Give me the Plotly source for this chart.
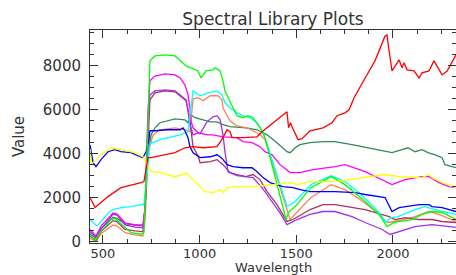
import plotly.graph_objects as go

# ---- data (wavelength, value) ----
red_wl = [433, 459, 526, 593, 697, 712, 733, 749, 873, 924, 966, 1018, 1090, 1121, 1142, 1157, 1168, 1224, 1297, 1323, 1400, 1452, 1460, 1470, 1478, 1509, 1530, 1571, 1638, 1685, 1711, 1752, 1773, 1799, 1856, 1907, 1959, 1969, 1980, 1995, 2032, 2047, 2057, 2073, 2109, 2135, 2150, 2186, 2212, 2254, 2280, 2326]
red_val = [2000, 1545, 2045, 2450, 2680, 2730, 3820, 3820, 4045, 4270, 4320, 4270, 4320, 4730, 5090, 5000, 4730, 4730, 4770, 5000, 5545, 5910, 5180, 5410, 5230, 4640, 4680, 5045, 5180, 5410, 5730, 5860, 6000, 6550, 7450, 8230, 9360, 9410, 8680, 7770, 8270, 7910, 8140, 7820, 7770, 7450, 7680, 7770, 8230, 7590, 7770, 8500]

green_wl = [433, 459, 490, 542, 562, 593, 645, 697, 712, 728, 743, 769, 821, 873, 904, 930, 955, 992, 1007, 1033, 1069, 1080, 1106, 1121, 1131, 1157, 1193, 1224, 1250, 1276, 1302, 1323, 1338, 1447, 1462, 1494, 1576, 1680, 1752, 1856, 1928, 1969, 2006, 2032, 2099, 2150, 2202, 2254, 2326]
green_val = [300, 50, 450, 1000, 1050, 800, 400, 330, 400, 4000, 8230, 8455, 8500, 8455, 8230, 8000, 7910, 7770, 7450, 7770, 7820, 7910, 7770, 7320, 6860, 6410, 5730, 5640, 5730, 5640, 5320, 5045, 4730, 1000, 1350, 1590, 2450, 2955, 2590, 1820, 1230, 680, 865, 910, 1000, 1230, 1365, 1320, 1000]

magenta_wl = [433, 464, 490, 552, 573, 614, 666, 707, 718, 733, 743, 769, 821, 873, 899, 924, 940, 950, 955, 966, 992, 1043, 1069, 1121, 1193, 1224, 1271, 1312, 1338, 1375, 1416, 1468, 1519, 1587, 1700, 1752, 1856, 1980, 1995, 2063, 2150, 2186, 2238, 2290, 2326]
magenta_val = [550, 250, 700, 1300, 1250, 850, 750, 700, 1600, 6000, 7320, 7540, 7640, 7590, 7450, 7140, 6680, 6090, 5500, 5180, 4950, 4860, 4860, 4770, 4730, 4550, 4500, 4320, 4090, 3950, 3500, 3140, 3140, 3270, 3410, 3500, 3180, 2680, 2590, 2820, 2955, 2955, 2680, 2500, 2450]

purple_wl = [433, 464, 490, 552, 573, 614, 666, 707, 718, 733, 743, 769, 821, 873, 904, 930, 940, 950, 966, 992, 1002, 1038, 1069, 1090, 1106, 1121, 1131, 1142, 1147, 1193, 1276, 1323, 1375, 1421, 1452, 1504, 1571, 1638, 1700, 1788, 1856, 1944, 1985, 2032, 2114, 2202, 2326]
purple_val = [450, 200, 550, 1250, 1200, 750, 650, 620, 1500, 5500, 6680, 6860, 6910, 6860, 6640, 6450, 6000, 5320, 4860, 4950, 4900, 5450, 5680, 5730, 5545, 4860, 4090, 3500, 3180, 3000, 2910, 2450, 1820, 1230, 770, 1000, 1230, 1365, 1365, 1135, 865, 545, 320, 455, 680, 770, 640]

maroon_wl = [433, 464, 490, 552, 573, 614, 666, 707, 718, 733, 743, 769, 821, 873, 904, 930, 950, 966, 992, 1002, 1054, 1090, 1121, 1157, 1193, 1240, 1276, 1312, 1349, 1400, 1452, 1483, 1571, 1638, 1700, 1773, 1856, 1980, 2011, 2063, 2135, 2202, 2254, 2326]
maroon_val = [250, 50, 450, 950, 900, 550, 480, 450, 1500, 5000, 6450, 6770, 6860, 6820, 6590, 6410, 5500, 4300, 3910, 3590, 3640, 3730, 3500, 3140, 3050, 2955, 3050, 2820, 2270, 1680, 910, 1000, 1455, 1680, 1680, 1590, 1455, 1135, 1000, 1090, 1000, 1000, 910, 865]

cyan_wl = [433, 469, 536, 552, 593, 645, 697, 712, 728, 743, 795, 899, 940, 955, 966, 1002, 1043, 1090, 1116, 1131, 1157, 1193, 1224, 1261, 1297, 1323, 1338, 1452, 1494, 1576, 1665, 1680, 1752, 1835, 1923, 1964, 1990, 2026, 2114, 2166, 2218, 2326]
cyan_val = [1000, 700, 1365, 1450, 1545, 1590, 1680, 1700, 3000, 4450, 4640, 4860, 5000, 6000, 6860, 6640, 6770, 6860, 6680, 6320, 6090, 5860, 5730, 5640, 5410, 5045, 4730, 1590, 1820, 2590, 2955, 3000, 2730, 2140, 1365, 865, 1090, 1135, 1455, 1590, 1455, 1230]

salmon_wl = [433, 464, 490, 552, 573, 614, 666, 707, 718, 733, 759, 795, 873, 924, 950, 966, 992, 1018, 1054, 1095, 1116, 1121, 1142, 1157, 1193, 1245, 1276, 1312, 1338, 1468, 1576, 1680, 1752, 1830, 1918, 1969, 2006, 2099, 2186, 2238, 2326]
salmon_val = [150, 0, 350, 750, 700, 400, 300, 250, 1000, 4000, 4860, 5090, 5180, 5090, 5000, 6500, 6550, 6410, 6640, 6640, 6450, 6090, 5730, 5500, 5270, 5180, 5045, 4860, 4640, 1000, 2000, 2590, 2360, 1910, 1320, 865, 910, 1090, 1365, 1230, 910]

seagreen_wl = [433, 464, 490, 552, 573, 614, 666, 707, 718, 733, 749, 769, 795, 873, 924, 940, 955, 976, 1018, 1054, 1090, 1121, 1157, 1240, 1297, 1349, 1400, 1452, 1468, 1494, 1519, 1571, 1638, 1700, 1788, 1870, 1959, 1995, 2047, 2078, 2114, 2150, 2181, 2218, 2254, 2269, 2326]
seagreen_val = [350, 150, 600, 1100, 1050, 800, 750, 750, 1500, 4000, 4860, 5180, 5410, 5590, 5545, 5410, 5770, 5640, 5545, 5450, 5450, 5320, 5230, 5180, 5090, 4860, 4500, 4090, 4045, 4270, 4410, 4500, 4550, 4550, 4410, 4270, 4090, 4045, 4180, 4270, 4090, 4180, 4045, 3950, 3820, 3500, 3360]

blue_wl = [433, 449, 464, 490, 526, 562, 593, 645, 692, 707, 723, 738, 743, 769, 834, 899, 914, 924, 940, 950, 966, 986, 1002, 1054, 1090, 1106, 1121, 1142, 1173, 1224, 1271, 1297, 1328, 1364, 1400, 1431, 1483, 1519, 1571, 1623, 1700, 1804, 1856, 1959, 1980, 1995, 2032, 2063, 2135, 2186, 2202, 2254, 2326]
blue_val = [4400, 3590, 3410, 3730, 4090, 4180, 4090, 4045, 3860, 3820, 4090, 4640, 5045, 5045, 5090, 5090, 5180, 5045, 4730, 4320, 4045, 3910, 3820, 3860, 3950, 3860, 3730, 3500, 3410, 3360, 3360, 3180, 2910, 2680, 2590, 2500, 2450, 2360, 2270, 2270, 2270, 2230, 2140, 2000, 1590, 1365, 1545, 1590, 1680, 1680, 1590, 1545, 1365]

yellow_wl = [433, 440, 459, 490, 542, 593, 666, 707, 723, 749, 800, 873, 914, 930, 955, 992, 1028, 1069, 1106, 1121, 1142, 1193, 1276, 1380, 1468, 1504, 1571, 1700, 1856, 1959, 2032, 2150, 2186, 2202, 2254, 2326]
yellow_val = [4200, 3550, 3640, 3950, 4270, 4180, 4045, 3860, 3590, 3180, 3140, 2950, 3050, 3140, 2910, 2590, 2270, 2230, 2360, 2230, 2450, 2500, 2500, 2590, 2680, 2590, 2730, 2730, 2910, 3050, 2950, 2910, 3050, 2910, 2680, 2450]

series = [
    ("seagreen", seagreen_wl, seagreen_val, "#2e8b57"),
    ("salmon", salmon_wl, salmon_val, "#ff7f5a"),
    ("maroon", maroon_wl, maroon_val, "#b03060"),
    ("purple", purple_wl, purple_val, "#a030f0"),
    ("magenta", magenta_wl, magenta_val, "#ff00ff"),
    ("cyan", cyan_wl, cyan_val, "#00ffff"),
    ("blue", blue_wl, blue_val, "#0000ff"),
    ("green", green_wl, green_val, "#00ff00"),
    ("yellow", yellow_wl, yellow_val, "#ffff00"),
    ("red", red_wl, red_val, "#ff0000"),
]

x_ticks = [500, 1000, 1500, 2000]
y_ticks = [0, 2000, 4000, 6000, 8000]

fig = go.Figure()
for name, wl, val, col in series:
    fig.add_trace(go.Scatter(x=wl, y=val, mode="lines", name=name,
                             line=dict(color=col, width=1.3), showlegend=False))

axis_col = "#333333"
txt_col = "#333333"
font_fam = "DejaVu Sans"
fig.update_layout(
    width=456, height=275,
    margin=dict(l=90, r=0, t=30, b=32),
    paper_bgcolor="white", plot_bgcolor="white",
    font=dict(family=font_fam, size=15, color=txt_col),
    title=dict(text="Spectral Library Plots", x=0.5, xref="paper", y=0.93,
               yanchor="middle", xanchor="center",
               font=dict(family=font_fam, size=17, color=txt_col)),
)
fig.update_xaxes(
    range=[433, 2326], tickvals=x_ticks, ticktext=[str(v) for v in x_ticks],
    showgrid=False, zeroline=False, showline=True, linecolor=axis_col, linewidth=1,
    mirror="ticks", ticks="inside", ticklen=8, tickcolor=axis_col, tickwidth=1,
    minor=dict(dtick=125, tick0=500, ticks="inside", ticklen=4, tickcolor=axis_col, showgrid=False),
    tickfont=dict(size=13), ticklabelstandoff=-2, automargin=False,
)
fig.update_yaxes(
    range=[-70, 9636], tickvals=y_ticks, ticktext=[str(v) for v in y_ticks],
    showgrid=False, zeroline=False, showline=True, linecolor=axis_col, linewidth=1,
    mirror="ticks", ticks="inside", ticklen=8, tickcolor=axis_col, tickwidth=1,
    minor=dict(dtick=500, tick0=0, ticks="inside", ticklen=4, tickcolor=axis_col, showgrid=False),
    title=dict(text="Value", standoff=14, font=dict(size=15)),
    tickfont=dict(size=15), ticklabelstandoff=5, automargin=False,
)
# x-axis title placed just under the tick labels (as in the reference)
fig.add_annotation(text="Wavelength", xref="paper", yref="paper", x=0.5, y=-0.115,
                   xanchor="center", yanchor="middle", showarrow=False,
                   font=dict(family=font_fam, size=13, color=txt_col))

fig.write_html("out.html", config={"displayModeBar": False},
               post_script="document.body.style.margin='0';document.body.style.overflow='hidden';")
